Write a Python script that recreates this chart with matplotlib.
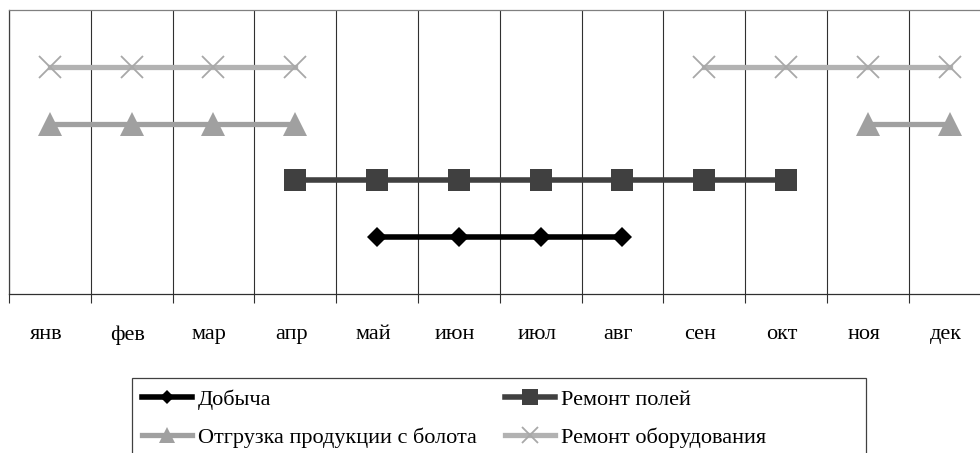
import numpy as np
import matplotlib
matplotlib.use("Agg")
import matplotlib.pyplot as plt
from matplotlib.patches import Rectangle

plt.rcParams["font.family"] = ["Liberation Serif", "DejaVu Serif"]

months = ["янв", "фев", "мар", "апр", "май", "июн",
          "июл", "авг", "сен", "окт", "ноя", "дек"]

# month indices (0 = январь) when each job is done
mining_months = [4, 5, 6, 7]
fields_months = [3, 4, 5, 6, 7, 8, 9]
shipping_spring = [0, 1, 2, 3]
shipping_winter = [10, 11]
equipment_spring = [0, 1, 2, 3]
equipment_autumn = [8, 9, 10, 11]

# row of each job on the chart
mining_row = 1
fields_row = 2
shipping_row = 3
equipment_row = 4

W, H = 980, 453
fig = plt.figure(figsize=(W / 100, H / 100), dpi=100)
month_px = 81.8
ax = fig.add_axes([9 / W, (H - 294) / H, 12 * month_px / W, 284 / H])


def draw(month_idx, row, **kw):
    x = np.array(month_idx) + 0.5
    return ax.plot(x, [row] * len(x), **kw)[0]


eq_style = dict(color="#b2b2b2", lw=3.8, marker="x", ms=16, mew=1.3, mec="#a8a8a8")
sh_style = dict(color="#a0a0a0", lw=3.8, marker="^", ms=17, mew=0)
fl_style = dict(color="#404040", lw=4, marker="s", ms=16.5, mew=0)
mn_style = dict(color="black", lw=4, marker="D", ms=10.5, mew=0)

h_eq = draw(equipment_spring, equipment_row, **eq_style)
draw(equipment_autumn, equipment_row, **eq_style)
h_sh = draw(shipping_spring, shipping_row, **sh_style)
draw(shipping_winter, shipping_row, **sh_style)
h_fl = draw(fields_months, fields_row, **fl_style)
h_mn = draw(mining_months, mining_row, **mn_style)

ax.set_xlim(0, 12)
ax.set_ylim(0, 5)
ax.set_yticks([])

ax.set_xticks(range(13))
ax.set_xticklabels([])
ax.set_xticks(np.arange(12) + 0.45, minor=True)
ax.set_xticklabels(months, minor=True, fontsize=16)
ax.tick_params(axis="x", which="major", direction="out", length=6.5,
               width=0.8, color="#303030")
ax.tick_params(axis="x", which="minor", length=0, pad=22.5)
ax.grid(axis="x", which="major", color="#303030", lw=0.8)

ax.spines["top"].set_color("#808080")
ax.spines["left"].set_color("#404040")
ax.spines["bottom"].set_color("#303030")
ax.spines["right"].set_visible(False)
for s in ax.spines.values():
    s.set_linewidth(0.9)

# legend box runs past the bottom edge
fig.patches.append(Rectangle((132 / W, -0.2), (866 - 132) / W, 0.2 + (H - 378) / H,
                             transform=fig.transFigure, fill=False,
                             edgecolor="#404040", lw=0.9))
fig.legend([h_mn, h_sh, h_fl, h_eq],
           ["Добыча", "Отгрузка продукции с болота", "Ремонт полей", "Ремонт оборудования"],
           ncol=2, loc="upper left", bbox_to_anchor=(142 / W, (H - 389) / H),
           frameon=False, fontsize=16, numpoints=1, markerscale=0.7,
           handlelength=2.25, handletextpad=0.25, columnspacing=1.3,
           labelspacing=0.8, borderpad=0, borderaxespad=0)

fig.savefig("out.png", dpi=100)
